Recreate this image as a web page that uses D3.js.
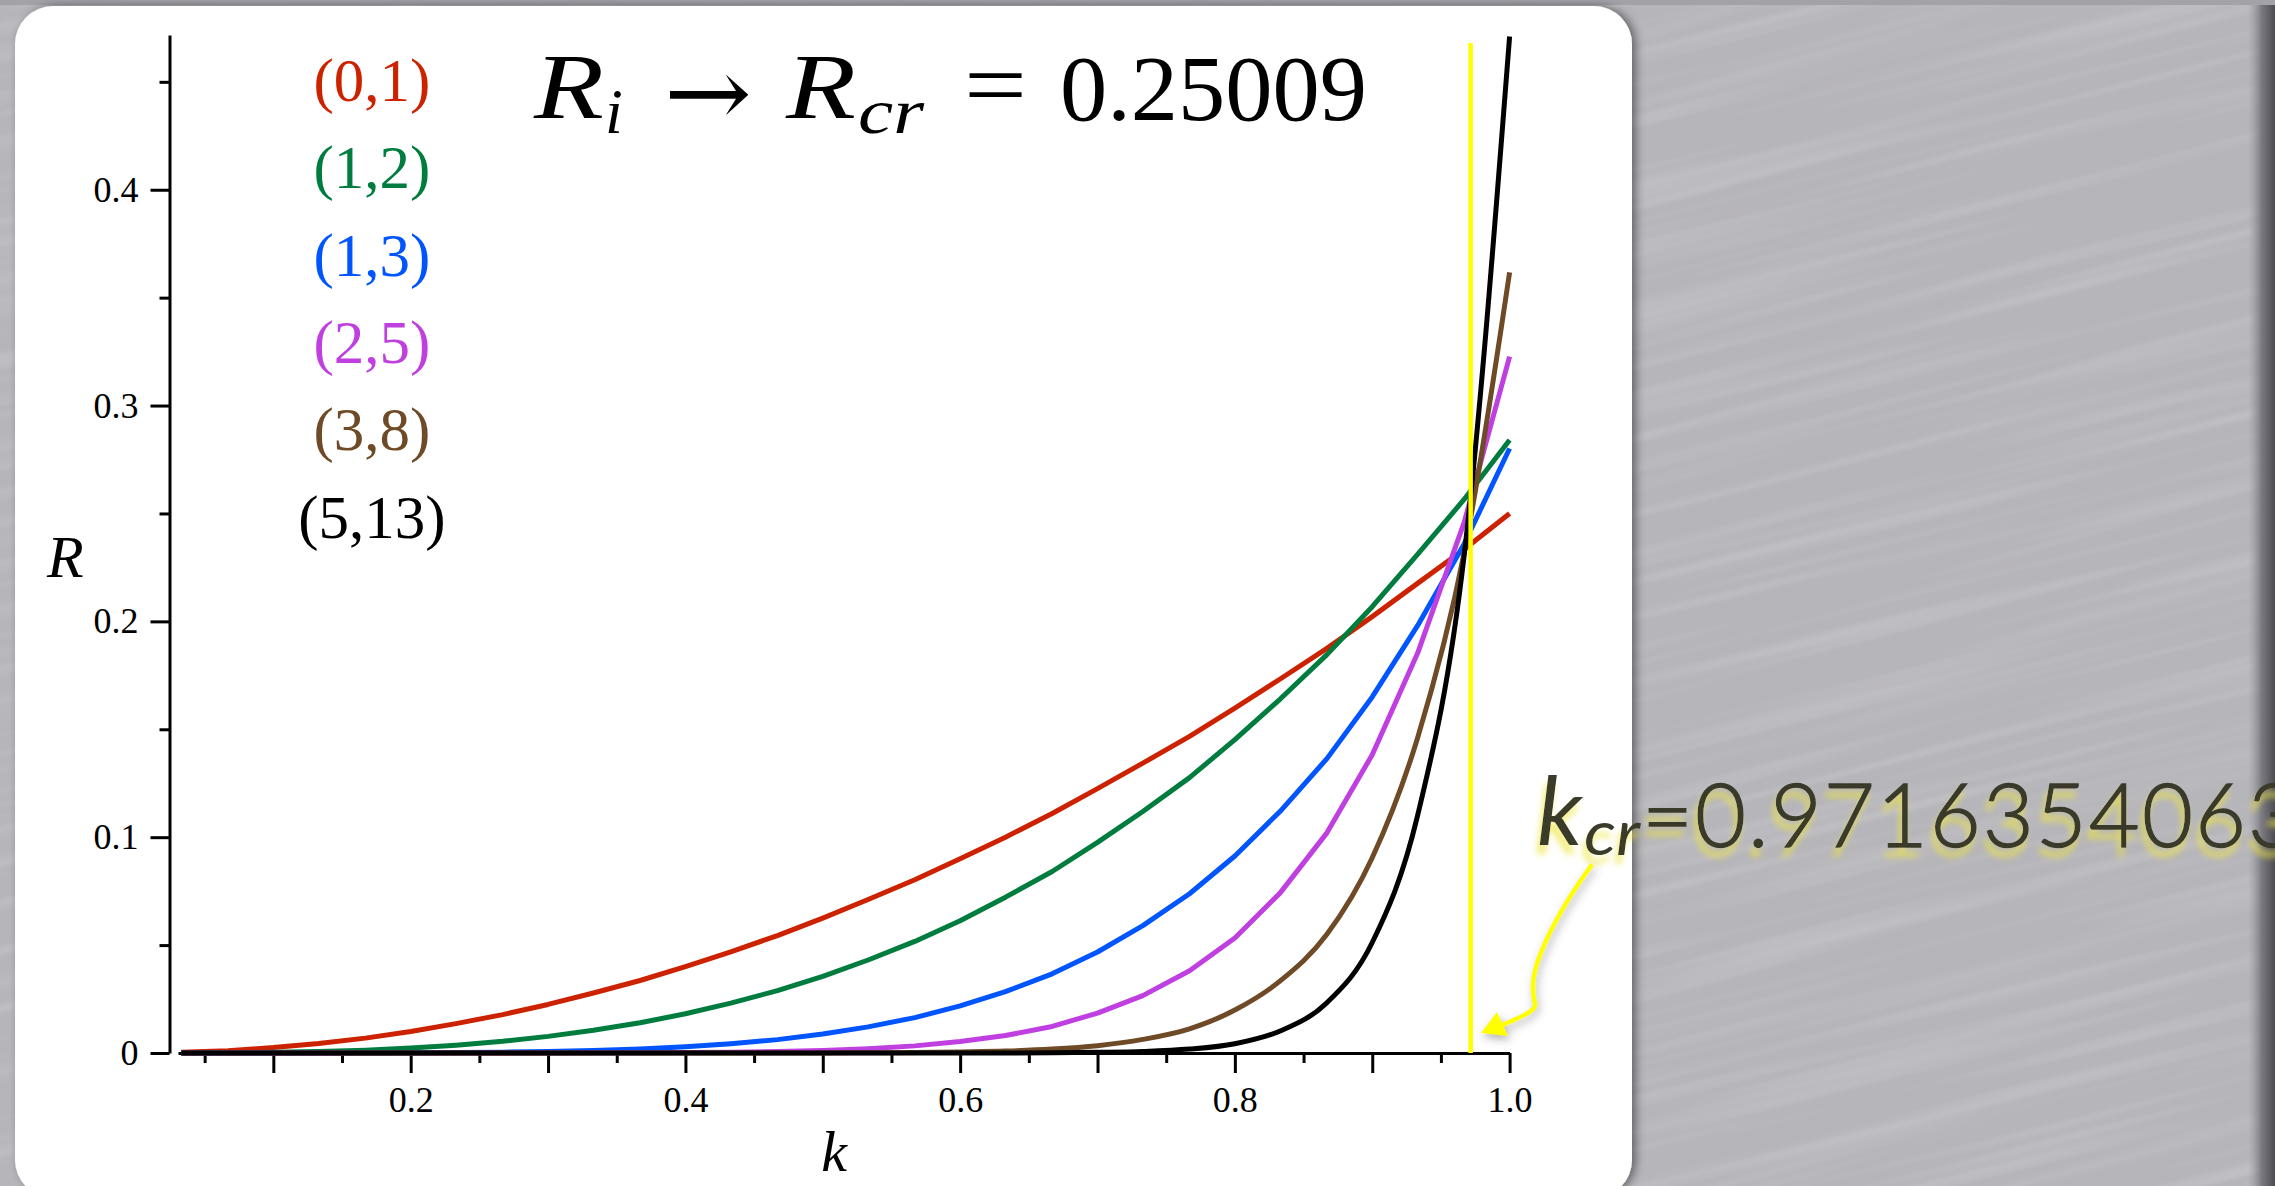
<!DOCTYPE html>
<html>
<head>
<meta charset="utf-8">
<script src="https://cdn.jsdelivr.net/npm/d3@7"></script>
<style>
  html, body { margin: 0; padding: 0; overflow: hidden; background: #b9b9be; }
  svg { display: block; }
</style>
</head>
<body>
<svg id="chart" width="2275" height="1186"></svg>
<script>
// Sample points along k (step 1/30)
const kValues = [0.033, 0.067, 0.100, 0.133, 0.167, 0.200, 0.233, 0.267, 0.300, 0.333,
                 0.367, 0.400, 0.433, 0.467, 0.500, 0.533, 0.567, 0.600, 0.633, 0.667,
                 0.700, 0.733, 0.767, 0.800, 0.833, 0.867, 0.900, 0.933, 0.967, 1.000];

// R(k) for each (m,n) pair
const r01  = [0.0003, 0.0011, 0.0025, 0.0044, 0.0069, 0.0100, 0.0136, 0.0178, 0.0225, 0.0278,
              0.0336, 0.0400, 0.0469, 0.0544, 0.0625, 0.0711, 0.0803, 0.0900, 0.1000, 0.1110,
              0.1225, 0.1343, 0.1467, 0.1598, 0.1733, 0.1875, 0.2022, 0.2176, 0.2334, 0.2500];
const r12  = [0.0000, 0.0001, 0.0003, 0.0007, 0.0013, 0.0023, 0.0036, 0.0054, 0.0077, 0.0105,
              0.0140, 0.0182, 0.0231, 0.0289, 0.0355, 0.0431, 0.0517, 0.0613, 0.0722, 0.0841,
              0.0976, 0.1119, 0.1276, 0.1452, 0.1640, 0.1846, 0.2068, 0.2310, 0.2566, 0.2840];
const r13  = [0.0000, 0.0000, 0.0000, 0.0000, 0.0000, 0.0001, 0.0002, 0.0004, 0.0007, 0.0012,
              0.0019, 0.0029, 0.0043, 0.0062, 0.0088, 0.0121, 0.0164, 0.0218, 0.0284, 0.0367,
              0.0468, 0.0590, 0.0738, 0.0913, 0.1120, 0.1364, 0.1650, 0.1980, 0.2360, 0.2801];
const r25  = [0.0000, 0.0000, 0.0000, 0.0000, 0.0000, 0.0000, 0.0000, 0.0000, 0.0000, 0.0001,
              0.0001, 0.0002, 0.0004, 0.0007, 0.0012, 0.0020, 0.0033, 0.0053, 0.0081, 0.0123,
              0.0185, 0.0266, 0.0381, 0.0533, 0.0742, 0.1020, 0.1382, 0.1852, 0.2460, 0.3227];
const r38  = [0.0000, 0.0000, 0.0000, 0.0000, 0.0000, 0.0000, 0.0000, 0.0000, 0.0000, 0.0000,
              0.0000, 0.0000, 0.0000, 0.0000, 0.0000, 0.0001, 0.0002, 0.0005, 0.0009, 0.0018,
              0.0034, 0.0063, 0.0112, 0.0199, 0.0334, 0.0550, 0.0905, 0.1460, 0.2320, 0.3617];
const r513 = [0.0000, 0.0000, 0.0000, 0.0000, 0.0000, 0.0000, 0.0000, 0.0000, 0.0000, 0.0000,
              0.0000, 0.0000, 0.0000, 0.0000, 0.0000, 0.0000, 0.0000, 0.0000, 0.0000, 0.0001,
              0.0003, 0.0007, 0.0018, 0.0043, 0.0102, 0.0233, 0.0512, 0.1100, 0.2310, 0.4710];

const seriesLabels = ["(0,1)", "(1,2)", "(1,3)", "(2,5)", "(3,8)", "(5,13)"];
const seriesValues = [r01, r12, r13, r25, r38, r513];
const seriesColors = ["#cc2200", "#007d3e", "#0055ff", "#bf3fe0", "#6e4b26", "#000000"];
// the two steepest curves are drawn smoothed, the others as plain polylines
const seriesSmooth = [false, false, false, false, true, true];

const kCritical = 0.971635406;
const kCriticalTop = 0.468;
const xTickMajor = [0.1, 0.2, 0.3, 0.4, 0.5, 0.6, 0.7, 0.8, 0.9, 1.0];
const xTickMinor = [0.05, 0.15, 0.25, 0.35, 0.45, 0.55, 0.65, 0.75, 0.85, 0.95];
const xTickLabels = ["", "0.2", "", "0.4", "", "0.6", "", "0.8", "", "1.0"];
const yTickMajor = [0, 0.1, 0.2, 0.3, 0.4];
const yTickMinor = [0.05, 0.15, 0.25, 0.35, 0.45];
const yTickLabels = ["0", "0.1", "0.2", "0.3", "0.4"];

const svg = d3.select("#chart");
const defs = svg.append("defs");

// brushed metal texture for the backdrop
const brushed = defs.append("filter").attr("id", "brushed")
  .attr("x", 0).attr("y", 0).attr("width", 1).attr("height", 1);
brushed.append("feTurbulence").attr("type", "fractalNoise")
  .attr("baseFrequency", "0.002 0.07").attr("numOctaves", 2).attr("seed", 3).attr("result", "n");
brushed.append("feColorMatrix").attr("in", "n").attr("type", "matrix")
  .attr("values", "0 0 0 0 0.9  0 0 0 0 0.9  0 0 0 0 0.92  0.35 0 0 0 -0.16").attr("result", "hl");
brushed.append("feComposite").attr("in", "hl").attr("in2", "SourceGraphic").attr("operator", "atop");

const panelShadow = defs.append("filter").attr("id", "panelShadow")
  .attr("x", -0.05).attr("y", -0.05).attr("width", 1.1).attr("height", 1.1);
panelShadow.append("feDropShadow").attr("dx", 4).attr("dy", 0).attr("stdDeviation", 5)
  .attr("flood-color", "#000").attr("flood-opacity", 0.45);

const glow = defs.append("filter").attr("id", "glow")
  .attr("x", -0.1).attr("y", -0.3).attr("width", 1.2).attr("height", 1.8);
glow.append("feGaussianBlur").attr("in", "SourceAlpha").attr("stdDeviation", 3).attr("result", "b");
glow.append("feOffset").attr("in", "b").attr("dx", -3).attr("dy", 9).attr("result", "o");
glow.append("feFlood").attr("flood-color", "#eee640").attr("flood-opacity", 0.7);
glow.append("feComposite").attr("in2", "o").attr("operator", "in").attr("result", "g");
const gm = glow.append("feMerge");
gm.append("feMergeNode").attr("in", "g");
gm.append("feMergeNode").attr("in", "SourceGraphic");

const arrowShadow = defs.append("filter").attr("id", "arrowShadow")
  .attr("x", -0.5).attr("y", -0.5).attr("width", 2).attr("height", 2);
arrowShadow.append("feDropShadow").attr("dx", 2).attr("dy", 4).attr("stdDeviation", 4)
  .attr("flood-color", "#555").attr("flood-opacity", 0.45);

const edgeGrad = defs.append("linearGradient").attr("id", "edgeGrad")
  .attr("x1", 0).attr("x2", 1).attr("y1", 0).attr("y2", 0);
edgeGrad.append("stop").attr("offset", 0).attr("stop-color", "#9a9aa0").attr("stop-opacity", 0);
edgeGrad.append("stop").attr("offset", 0.5).attr("stop-color", "#7a7a80");
edgeGrad.append("stop").attr("offset", 1).attr("stop-color", "#4c4c52");

// backdrop
svg.append("rect").attr("width", 2275).attr("height", 1186).attr("fill", "#b6b5ba");
svg.append("g").attr("transform", "rotate(-14 1137 593)")
  .append("rect").attr("x", -400).attr("y", -600).attr("width", 3100).attr("height", 2400)
  .attr("fill", "#b6b5ba").attr("filter", "url(#brushed)");
svg.append("rect").attr("x", 2248).attr("y", 0).attr("width", 27).attr("height", 1186)
  .attr("fill", "url(#edgeGrad)");
svg.append("rect").attr("x", 0).attr("y", 0).attr("width", 2275).attr("height", 5)
  .attr("fill", "#a2a2a8");

// white panel
svg.append("rect").attr("x", 15).attr("y", 6).attr("width", 1617).attr("height", 1192)
  .attr("rx", 38).attr("fill", "#ffffff").attr("filter", "url(#panelShadow)");

// scales
const x = d3.scaleLinear().domain([0.0306, 1]).range([178, 1509.6]);
const y = d3.scaleLinear().domain([0, 0.4717]).range([1053, 35]);
const yAxisX = 169.5;

const serif = "'Liberation Serif', 'Times New Roman', serif";

// axes
const xMajor = svg.append("g").attr("transform", `translate(0,${y(0)})`)
  .call(d3.axisBottom(x).tickValues(xTickMajor).tickSize(20).tickSizeOuter(0).tickPadding(13)
    .tickFormat((d, i) => xTickLabels[i]));
const xMinor = svg.append("g").attr("transform", `translate(0,${y(0)})`)
  .call(d3.axisBottom(x).tickValues(xTickMinor).tickSize(10).tickSizeOuter(0).tickFormat(""));
const yMajor = svg.append("g").attr("transform", `translate(${yAxisX},0)`)
  .call(d3.axisLeft(y).tickValues(yTickMajor).tickSize(19).tickSizeOuter(0).tickPadding(12)
    .tickFormat((d, i) => yTickLabels[i]));
const yMinor = svg.append("g").attr("transform", `translate(${yAxisX},0)`)
  .call(d3.axisLeft(y).tickValues(yTickMinor).tickSize(10).tickSizeOuter(0).tickFormat(""));
xMinor.select(".domain").remove();
yMinor.select(".domain").remove();
[xMajor, xMinor, yMajor, yMinor].forEach(g => {
  g.selectAll("line, path").attr("stroke", "#000").attr("stroke-width", 3);
  g.selectAll("text").attr("font-family", serif).attr("font-size", 36).attr("fill", "#000");
});

// curves
seriesValues.forEach((vals, s) => {
  const line = d3.line().x(d => x(d[0])).y(d => y(d[1]))
    .curve(seriesSmooth[s] ? d3.curveMonotoneX : d3.curveLinear);
  svg.append("path")
    .datum(kValues.map((k, i) => [k, vals[i]]))
    .attr("d", line)
    .attr("fill", "none")
    .attr("stroke", seriesColors[s])
    .attr("stroke-width", 5)
    .attr("stroke-linejoin", "round");
});

// critical k marker
svg.append("line")
  .attr("x1", x(kCritical)).attr("x2", x(kCritical))
  .attr("y1", y(0)).attr("y2", y(kCriticalTop))
  .attr("stroke", "#ffff00").attr("stroke-width", 4.5);

// legend
const legend = svg.append("g");
seriesLabels.forEach((lab, i) => {
  legend.append("text")
    .attr("x", 372).attr("y", 101 + i * 87.3)
    .attr("text-anchor", "middle")
    .attr("font-family", serif).attr("font-size", 61)
    .attr("fill", seriesColors[i])
    .text(lab);
});

// axis titles
svg.append("text").attr("x", 47).attr("y", 577)
  .attr("font-family", serif).attr("font-style", "italic").attr("font-size", 60)
  .text("R");
svg.append("text").attr("x", 834).attr("y", 1171).attr("text-anchor", "middle")
  .attr("font-family", serif).attr("font-style", "italic").attr("font-size", 58)
  .text("k");

// heading formula
const head = svg.append("g").attr("font-family", serif).attr("fill", "#000");
head.append("text").attr("x", 534).attr("y", 118).attr("font-size", 94)
  .attr("font-style", "italic").attr("textLength", 70).attr("lengthAdjust", "spacingAndGlyphs").text("R");
head.append("text").attr("x", 605).attr("y", 133).attr("font-size", 64)
  .attr("font-style", "italic").text("i");
head.append("text").attr("x", 664).attr("y", 126).attr("font-size", 96)
  .attr("font-family", "'DejaVu Serif', serif")
  .attr("textLength", 88).attr("lengthAdjust", "spacingAndGlyphs").text("\u2192");
head.append("text").attr("x", 786).attr("y", 118).attr("font-size", 94)
  .attr("font-style", "italic").attr("textLength", 70).attr("lengthAdjust", "spacingAndGlyphs").text("R");
head.append("text").attr("x", 858).attr("y", 133).attr("font-size", 64)
  .attr("font-style", "italic").attr("textLength", 66).attr("lengthAdjust", "spacingAndGlyphs").text("cr");
head.append("text").attr("x", 964).attr("y", 116).attr("font-size", 94)
  .attr("textLength", 63).attr("lengthAdjust", "spacingAndGlyphs").text("=");
head.append("text").attr("x", 1060).attr("y", 120).attr("font-size", 94)
  .attr("textLength", 307).attr("lengthAdjust", "spacingAndGlyphs").text("0.25009");

// callout for the critical k value
const sans = "Lato, 'Open Sans', 'DejaVu Sans', sans-serif";
const callout = svg.append("g").attr("fill", "#3a3a2c").attr("filter", "url(#glow)")
  .attr("font-family", sans);
callout.append("text").attr("x", 1537).attr("y", 845).attr("font-size", 96)
  .attr("font-style", "italic").attr("font-weight", 400).text("k");
callout.append("text").attr("x", 1584).attr("y", 855).attr("font-size", 62)
  .attr("font-style", "italic").attr("font-weight", 400)
  .attr("textLength", 56).attr("lengthAdjust", "spacingAndGlyphs").text("cr");
callout.append("text").attr("x", 1642).attr("y", 847).attr("font-size", 88)
  .attr("font-weight", 300).attr("stroke", "#3a3a2c").attr("stroke-width", 1.4)
  .attr("letter-spacing", 2).text("=0.9716354063");

const arrow = svg.append("g").attr("filter", "url(#arrowShadow)");
arrow.append("path")
  .attr("d", "M1591,866 C1572,892 1552,924 1540,955 C1530,980 1533,995 1535,1004 C1536,1010 1526,1015 1500,1026")
  .attr("fill", "none").attr("stroke", "#ffff00").attr("stroke-width", 4.5).attr("stroke-linecap", "round");
arrow.append("path")
  .attr("d", "M1481,1033 L1497,1012 L1508,1036 Z")
  .attr("fill", "#ffff00");
</script>
</body>
</html>
